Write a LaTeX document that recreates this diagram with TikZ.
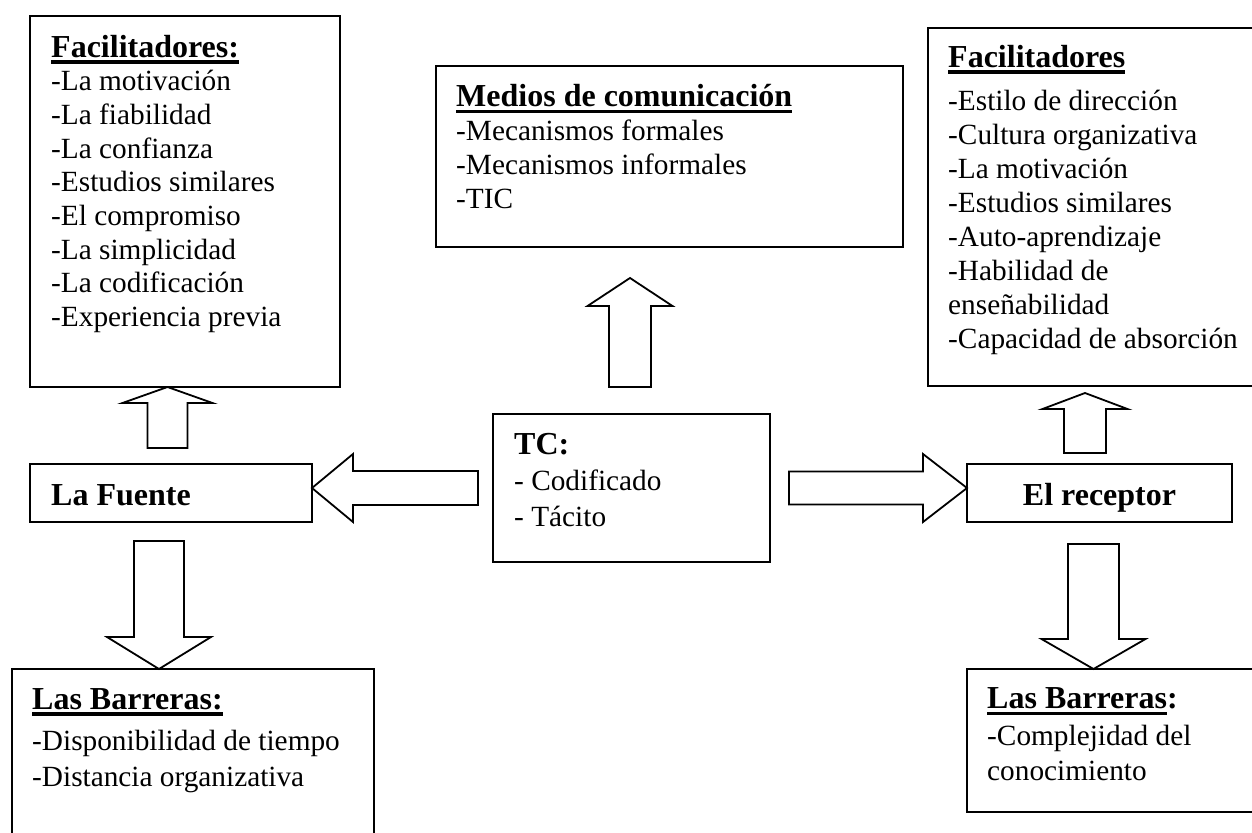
\documentclass[tikz,border=0pt]{standalone}
\usepackage{fontspec}
\setmainfont{Liberation Serif}
\usetikzlibrary{calc}

% type sizes: body text and bold headings
\newcommand\regf{\fontsize{29.3}{33.7}\selectfont}
\newcommand\hdf{\fontsize{32}{33.7}\selectfont\bfseries}

% heavy underline for headings
\newlength\ulwd
\newcommand\ulin[1]{\settowidth{\ulwd}{#1}\rlap{\rule[-6.5pt]{\ulwd}{3.3pt}}#1}

% hollow block arrow from #1 (tail) to #2 (tip):
% #3 half shaft width, #4 half head width, #5 head length
\newcommand\blockarrow[5]{%
  \coordinate (ba-base) at ($(#2)!#5!(#1)$);
  \draw[barrow]
    ($(#1)!#3!90:(#2)$) -- ($(ba-base)!#3!90:(#2)$) -- ($(ba-base)!#4!90:(#2)$)
    -- (#2)
    -- ($(ba-base)!#4!-90:(#2)$) -- ($(ba-base)!#3!-90:(#2)$) -- ($(#1)!#3!-90:(#2)$)
    -- cycle;
}

\begin{document}
\begin{tikzpicture}[x=1pt,y=-1pt,
  box/.style={draw, line width=2pt, inner sep=0pt, outer sep=0pt, anchor=north west},
  % multi-line blocks are placed by the baseline of their last line
  txt/.style={anchor=base west, inner sep=0pt, align=left, font=\regf},
  barrow/.style={draw, line width=1.8pt, line join=miter}]
\useasboundingbox (0,0) rectangle (1252,832);
\clip (0,0) rectangle (1252,832);

% frames
\node[box, minimum width=310pt, minimum height=371pt] (facL) at (30,16) {};
\node[box, minimum width=282pt, minimum height=58pt]  (fuente) at (30,464) {};
\node[box, minimum width=362pt, minimum height=200pt] (barL) at (12,669) {};
\node[box, minimum width=467pt, minimum height=181pt] (medios) at (436,66) {};
\node[box, minimum width=277pt, minimum height=148pt] (tc) at (493,414) {};
\node[box, minimum width=360pt, minimum height=358pt] (facR) at (928,28) {};
\node[box, minimum width=265pt, minimum height=58pt]  (receptor) at (967,464) {};
\node[box, minimum width=320pt, minimum height=143pt] (barR) at (967,669) {};

% texts
\node[txt] (facLt) at (51,326.6) {{\hdf\ulin{Facilitadores:}}\\
  -La motivación\\-La fiabilidad\\-La confianza\\-Estudios similares\\
  -El compromiso\\-La simplicidad\\-La codificación\\-Experiencia previa};
\node[txt] (fuentet) at (51,505) {\hdf La Fuente};
\node[txt] (barLt) at (32,786.4) {{\hdf\ulin{Las Barreras:}}\\[8pt]
  -Disponibilidad de tiempo\\[2pt]-Distancia organizativa};
\node[txt] (mediost) at (456,208) {{\hdf\ulin{Medios de comunicación}}\\
  -Mecanismos formales\\-Mecanismos informales\\-TIC};
\node[txt] (tct) at (514,526) {{\hdf TC:}\\[2.3pt]- Codificado\\[2.3pt]- Tácito};
\node[txt, font={\fontsize{29.3}{34}\selectfont}] (facRt) at (948,348) {{\hdf\ulin{Facilitadores}}\\[9pt]
  -Estilo de dirección\\-Cultura organizativa\\-La motivación\\-Estudios similares\\
  -Auto-aprendizaje\\-Habilidad de\\enseñabilidad\\-Capacidad de absorción};
\node[anchor=base, inner sep=0pt] (receptort) at (1099.5,505) {\hdf El receptor};
\node[txt] (barRt) at (987,780) {{\hdf\ulin{Las Barreras}:}\\[3pt]
  -Complejidad del\\[1pt]conocimiento};

% arrows
\coordinate (a1s) at (167.5,448);
\coordinate (a1e) at (a1s |- facL.south);
\blockarrow{a1s}{a1e}{20pt}{45pt}{16pt}

\coordinate (a2s) at (478,488);
\coordinate (a2e) at (a2s -| fuente.east);
\blockarrow{a2s}{a2e}{17pt}{34pt}{41pt}

\coordinate (a3s) at (159,541);
\coordinate (a3e) at (a3s |- barL.north);
\blockarrow{a3s}{a3e}{25pt}{52pt}{32pt}

\coordinate (a4s) at (630,387);
\coordinate (a4e) at (630,278);
\blockarrow{a4s}{a4e}{21pt}{42.5pt}{28pt}

\coordinate (a5s) at (789,488);
\coordinate (a5e) at (a5s -| receptor.west);
\blockarrow{a5s}{a5e}{16.5pt}{34pt}{44pt}

\coordinate (a6s) at (1085,453);
\coordinate (a6e) at (1085,393);
\blockarrow{a6s}{a6e}{21pt}{42.5pt}{16pt}

\coordinate (a7s) at (1093.5,544);
\coordinate (a7e) at (a7s |- barR.north);
\blockarrow{a7s}{a7e}{25.5pt}{52pt}{30pt}
\end{tikzpicture}
\end{document}
